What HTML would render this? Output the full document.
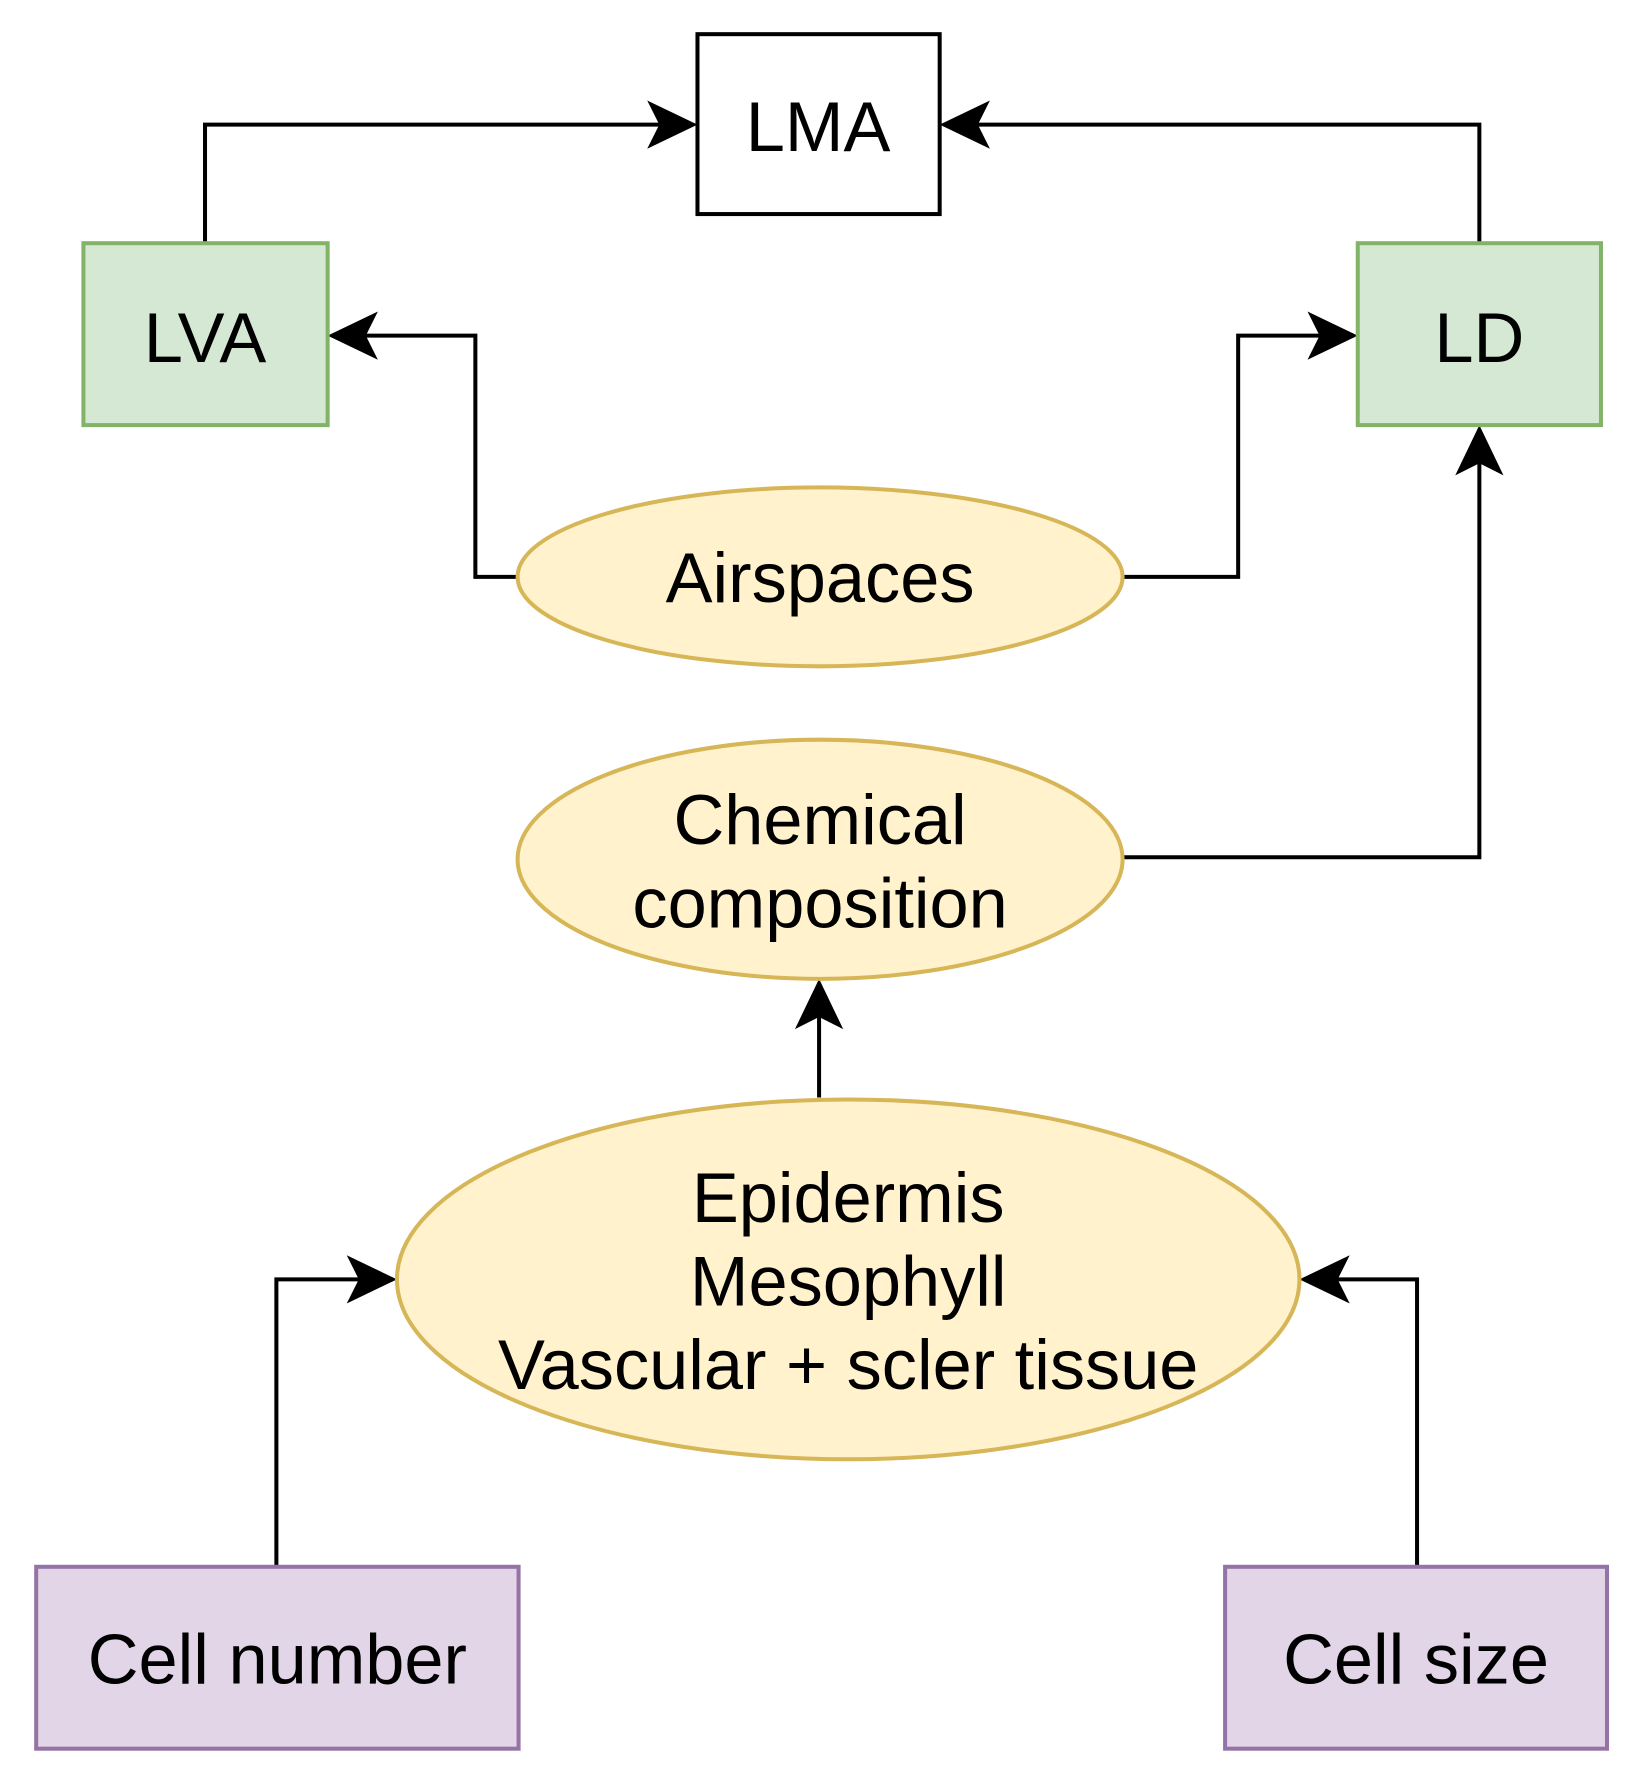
<!DOCTYPE html>
<html><head><style>body{margin:0;background:#fff}</style></head><body>
<svg width="1635" height="1779" viewBox="0 0 1635 1779" xmlns="http://www.w3.org/2000/svg" font-family="Liberation Sans, Arial, sans-serif" font-size="70" text-anchor="middle">
<g transform="scale(1.005)">
<g fill="none" stroke="#000" stroke-width="4">
<polyline points="204,242 204,124 690,124"/>
<polyline points="1472,242 1472,124 939,124"/>
<polyline points="515,574 473,574 473,334 330,334"/>
<polyline points="1117,574 1232,574 1232,334 1347,334"/>
<polyline points="1117,853 1472,853 1472,427"/>
<polyline points="815,1092 815,978"/>
<polyline points="275,1559 275,1273 391,1273"/>
<polyline points="1410,1559 1410,1273 1297,1273"/>
</g>
<g fill="#000">
<path d="M694,124 L644,100 L656,124 L644,148 Z"/>
<path d="M935,124 L985,100 L973,124 L985,148 Z"/>
<path d="M326,334 L376,310 L364,334 L376,358 Z"/>
<path d="M1351,334 L1301,310 L1313,334 L1301,358 Z"/>
<path d="M1472,423 L1448,473 L1472,461 L1496,473 Z"/>
<path d="M815,974 L791,1024 L815,1012 L839,1024 Z"/>
<path d="M395,1273 L345,1249 L357,1273 L345,1297 Z"/>
<path d="M1293,1273 L1343,1249 L1331,1273 L1343,1297 Z"/>
</g>
<rect x="694" y="34" width="241" height="179" fill="#fff" stroke="#000" stroke-width="4"/>
<rect x="83" y="242" width="243" height="181" fill="#d5e8d4" stroke="#82b366" stroke-width="4"/>
<rect x="1351" y="242" width="242" height="181" fill="#d5e8d4" stroke="#82b366" stroke-width="4"/>
<ellipse cx="816" cy="574" rx="301" ry="89" fill="#fff2cc" stroke="#d6b656" stroke-width="4"/>
<ellipse cx="816" cy="855" rx="301" ry="119" fill="#fff2cc" stroke="#d6b656" stroke-width="4"/>
<ellipse cx="844" cy="1273" rx="449" ry="179" fill="#fff2cc" stroke="#d6b656" stroke-width="4"/>
<rect x="36" y="1559" width="480" height="181" fill="#e1d5e7" stroke="#9673a6" stroke-width="4"/>
<rect x="1219" y="1559" width="380" height="181" fill="#e1d5e7" stroke="#9673a6" stroke-width="4"/>
<g fill="#000">
<text x="814" y="150">LMA</text>
<text x="204" y="360">LVA</text>
<text x="1472" y="360">LD</text>
<text x="816" y="599">Airspaces</text>
<text x="816" y="840">Chemical</text>
<text x="816" y="923">composition</text>
<text x="844" y="1216">Epidermis</text>
<text x="844" y="1299">Mesophyll</text>
<text x="844" y="1382">Vascular + scler tissue</text>
<text x="276" y="1675">Cell number</text>
<text x="1409" y="1675">Cell size</text>
</g>
</g>
</svg>
</body></html>
